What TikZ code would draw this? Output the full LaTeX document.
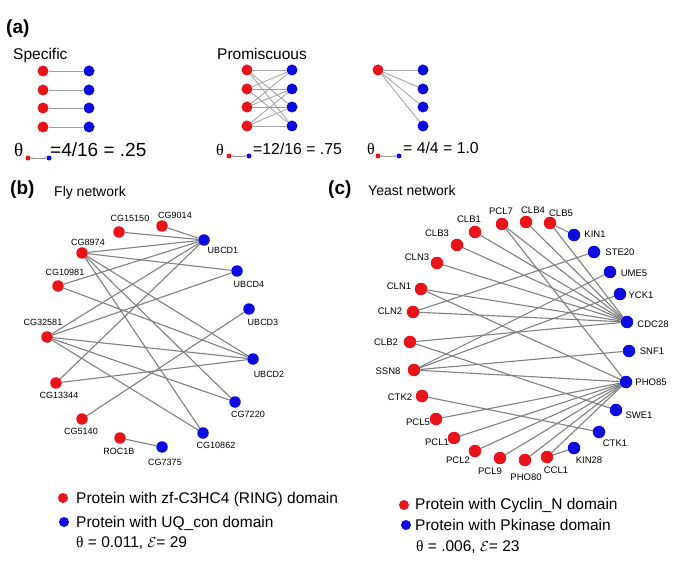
\documentclass[tikz,border=0pt]{standalone}
\usepackage{fontspec}
\setmainfont{Liberation Sans}
\newfontfamily\thfont{Liberation Serif}
\usetikzlibrary{backgrounds,arrows.meta}
\definecolor{myred}{RGB}{232,20,26}
\definecolor{myblue}{RGB}{12,12,222}
\definecolor{edgegray}{RGB}{128,128,128}
\tikzset{
  rn/.style={circle,fill=myred,inner sep=0pt,minimum size=11.5pt},
  bn/.style={circle,fill=myblue,inner sep=0pt,minimum size=11.5pt},
  yrn/.style={circle,fill=myred,inner sep=0pt,minimum size=12.5pt},
  ybn/.style={circle,fill=myblue,inner sep=0pt,minimum size=12.5pt},
  arn/.style={circle,fill=myred,inner sep=0pt,minimum size=11pt},
  abn/.style={circle,fill=myblue,inner sep=0pt,minimum size=11pt},
  srn/.style={circle,fill=myred,inner sep=0pt,minimum size=5pt},
  sbn/.style={circle,fill=myblue,inner sep=0pt,minimum size=5pt},
  lgr/.style={circle,fill=myred,inner sep=0pt,minimum size=10pt},
  lgb/.style={circle,fill=myblue,inner sep=0pt,minimum size=10pt},
  edge/.style={draw=edgegray,line width=1.1pt},
  aedge/.style={draw=edgegray!75,line width=0.8pt},
  lab/.style={inner sep=0pt,font=\fontsize{9}{10}\selectfont},
  ylab/.style={inner sep=0pt,font=\fontsize{9.5}{10}\selectfont},
  txt/.style={inner sep=0pt,anchor=base west},
}
\begin{document}
\begin{tikzpicture}[x=1pt,y=-1pt]
\useasboundingbox (0,0) rectangle (685,561);

% ---------- panel (a)
\node[txt,font=\bfseries\fontsize{19}{20}\selectfont] (pa) at (6,34) {(a)};
\node[txt,font=\fontsize{15.5}{16}\selectfont] (spec) at (13,60) {Specific};
\node[txt,font=\fontsize{15.5}{16}\selectfont] (prom) at (217,60) {Promiscuous};

\foreach \i/\y in {1/71,2/90,3/108,4/127}{
  \node[arn] (sr\i) at (43,\y) {};
  \node[abn] (sb\i) at (89,\y) {};
}
\foreach \i/\y in {1/70,2/89,3/107,4/126}{
  \node[arn] (pr\i) at (247,\y) {};
  \node[abn] (pb\i) at (292,\y) {};
  \node[abn] (tb\i) at (423,\y) {};
}
\node[arn] (tr) at (378,70) {};
\begin{pgfonlayer}{background}
\foreach \i in {1,2,3,4}{\draw[aedge] (sr\i) -- (sb\i); \draw[aedge] (tr) -- (tb\i);}
\foreach \a/\b in {1/1,1/3,1/4,2/1,2/2,2/4,3/1,3/2,3/3,4/2,4/3,4/4}{\draw[aedge] (pr\a) -- (pb\b);}
\end{pgfonlayer}

% theta formulas
\node[txt,font=\thfont\fontsize{19}{20}\selectfont] (th1) at (14,157) {θ};
\node[srn] (th1r) at (28,158) {};
\node[sbn] (th1b) at (49,158) {};
\draw[edgegray!80,line width=0.5pt,{Stealth[length=2pt,width=2pt]}-{Stealth[length=2pt,width=2pt]}] (th1r) -- (th1b);
\node[txt,font=\fontsize{19}{20}\selectfont] (f1) at (50,157) {=4/16 = .25};

\node[txt,font=\thfont\fontsize{16}{17}\selectfont] (th2) at (216,156) {θ};
\node[srn] (th2r) at (229,156) {};
\node[sbn] (th2b) at (249,156) {};
\draw[edgegray!80,line width=0.5pt,{Stealth[length=2pt,width=2pt]}-{Stealth[length=2pt,width=2pt]}] (th2r) -- (th2b);
\node[txt,font=\fontsize{15.8}{17}\selectfont] (f2) at (253,155) {=12/16 = .75};

\node[txt,font=\thfont\fontsize{16}{17}\selectfont] (th3) at (367,155) {θ};
\node[srn] (th3r) at (378,156) {};
\node[sbn] (th3b) at (399,156) {};
\draw[edgegray!80,line width=0.5pt,{Stealth[length=2pt,width=2pt]}-{Stealth[length=2pt,width=2pt]}] (th3r) -- (th3b);
\node[txt,font=\fontsize{15.8}{17}\selectfont] (f3) at (403,154) {= 4/4 = 1.0};

% ---------- panel (b)
\node[txt,font=\bfseries\fontsize{19}{20}\selectfont] (pb) at (10,195) {(b)};
\node[txt,font=\fontsize{14}{15}\selectfont] (flyt) at (54,197) {Fly network};

\node[rn] (f15150) at (119,232) {};
\node[rn] (f9014) at (162,226) {};
\node[bn] (fu1) at (204,240) {};
\node[rn] (f8974) at (82,253) {};
\node[bn] (fu4) at (237,271) {};
\node[rn] (f10981) at (58,286) {};
\node[bn] (fu3) at (249,309) {};
\node[rn] (f32581) at (47,337) {};
\node[bn] (fu2) at (253,359) {};
\node[rn] (f13344) at (56,383) {};
\node[bn] (f7220) at (235,402) {};
\node[rn] (f5140) at (82,419) {};
\node[bn] (f10862) at (203,433) {};
\node[rn] (froc) at (120,438) {};
\node[bn] (f7375) at (162,447) {};

\node[lab] (l15150) at (130,218) {CG15150};
\node[lab] (l9014) at (175,215) {CG9014};
\node[lab] (lu1) at (223,250) {UBCD1};
\node[lab] (l8974) at (88,242) {CG8974};
\node[lab] (lu4) at (249,284) {UBCD4};
\node[lab] (l10981) at (65,272) {CG10981};
\node[lab] (lu3) at (263,322) {UBCD3};
\node[lab] (l32581) at (43,322) {CG32581};
\node[lab] (lu2) at (269,374) {UBCD2};
\node[lab] (l13344) at (59,395) {CG13344};
\node[lab] (l7220) at (248,414) {CG7220};
\node[lab] (l5140) at (81,431) {CG5140};
\node[lab] (l10862) at (216,445) {CG10862};
\node[lab] (lroc) at (119,451) {ROC1B};
\node[lab] (l7375) at (165,462) {CG7375};

\begin{pgfonlayer}{background}
\foreach \a/\b in {f15150/fu1,f9014/fu1,f8974/fu1,f8974/fu4,f8974/fu2,f8974/f7220,f8974/f10862,
  f10981/fu1,f10981/fu2,f32581/fu1,f32581/fu4,f32581/fu2,f32581/f7220,f32581/f10862,
  f13344/fu1,f13344/fu2,f5140/fu3,froc/f7375}{\draw[edge] (\a) -- (\b);}
\end{pgfonlayer}

\node[lgr] (flr) at (63,498) {};
\node[lgb] (flb) at (64,522) {};
\node[txt,font=\fontsize{15.5}{16}\selectfont] (flt1) at (76,503) {Protein with zf-C3HC4 (RING) domain};
\node[txt,font=\fontsize{15.5}{16}\selectfont] (flt2) at (76,527) {Protein with UQ\_con domain};
\node[txt,font=\fontsize{15.5}{16}\selectfont] (flt3) at (76,547) {{\thfont θ} = 0.011, $\mathcal{E}$= 29};

% ---------- panel (c)
\node[txt,font=\bfseries\fontsize{19}{20}\selectfont] (pc) at (328,195) {(c)};
\node[txt,font=\fontsize{14}{15}\selectfont] (yt) at (368,196) {Yeast network};

\node[yrn] (CLB1) at (475,232) {};
\node[yrn] (PCL7) at (502,224) {};
\node[yrn] (CLB4) at (526,222) {};
\node[yrn] (CLB5) at (550,223) {};
\node[ybn] (KIN1) at (574,235) {};
\node[yrn] (CLB3) at (457,245) {};
\node[ybn] (STE20) at (594,252) {};
\node[yrn] (CLN3) at (437,263) {};
\node[ybn] (UME5) at (610,272) {};
\node[yrn] (CLN1) at (421,289) {};
\node[ybn] (YCK1) at (620,294) {};
\node[yrn] (CLN2) at (413,312) {};
\node[ybn] (CDC28) at (627,322) {};
\node[yrn] (CLB2) at (410,342) {};
\node[ybn] (SNF1) at (629,351) {};
\node[yrn] (SSN8) at (414,370) {};
\node[ybn] (PHO85) at (626,382) {};
\node[yrn] (CTK2) at (422,396) {};
\node[ybn] (SWE1) at (616,410) {};
\node[yrn] (PCL5) at (436,419) {};
\node[ybn] (CTK1) at (599,432) {};
\node[yrn] (PCL1) at (454,438) {};
\node[ybn] (KIN28) at (574,448) {};
\node[yrn] (PCL2) at (475,451) {};
\node[yrn] (CCL1) at (547,457) {};
\node[yrn] (PCL9) at (500,458) {};
\node[yrn] (PHO80) at (525,460) {};

\foreach \n/\x/\y in {CLB1/469/219,PCL7/501/211,CLB4/533/210,CLB5/561/213,KIN1/595/234,
  CLB3/437/233,STE20/620/252,CLN3/417/257,UME5/634/273,CLN1/399/286,YCK1/641/295,
  CLN2/390/311,CDC28/653/324,CLB2/386/342,SNF1/652/351,SSN8/388/371,PHO85/651/382,
  CTK2/400/397,SWE1/639/415,PCL5/418/422,CTK1/615/443,PCL1/437/442,KIN28/589/460,
  PCL2/458/460,CCL1/556/470,PCL9/490/471,PHO80/526/477}{
  \node[ylab] (l\n) at (\x,\y) {\n};
}

\begin{pgfonlayer}{background}
\foreach \a/\b in {CLB5/KIN1,CLB5/CDC28,CLB4/CDC28,PCL7/CDC28,PCL7/PHO85,CLB1/CDC28,CLB3/CDC28,
  CLN3/CDC28,CLN1/CDC28,CLN1/PHO85,CLN2/STE20,CLN2/CDC28,CLB2/CDC28,CLB2/SWE1,
  SSN8/UME5,SSN8/YCK1,SSN8/SNF1,SSN8/PHO85,CTK2/CTK1,PCL5/PHO85,PCL1/PHO85,PCL2/PHO85,
  PCL9/PHO85,PHO80/PHO85,CCL1/PHO85,CCL1/KIN28}{\draw[edge] (\a) -- (\b);}
\end{pgfonlayer}

\node[lgr] (ylr) at (404,505) {};
\node[lgb] (ylb) at (406,525) {};
\node[txt,font=\fontsize{15.5}{16}\selectfont] (ylt1) at (415,509) {Protein with Cyclin\_N domain};
\node[txt,font=\fontsize{15.5}{16}\selectfont] (ylt2) at (415,530) {Protein with Pkinase domain};
\node[txt,font=\fontsize{15.5}{16}\selectfont] (ylt3) at (416,551) {{\thfont θ} = .006, $\mathcal{E}$= 23};
\end{tikzpicture}
\end{document}
